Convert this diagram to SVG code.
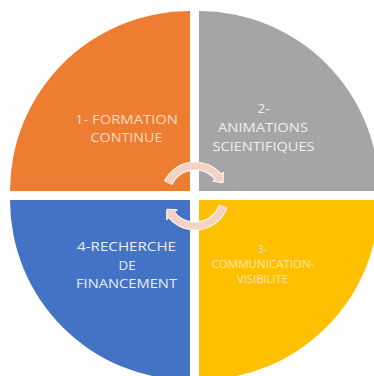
<svg xmlns="http://www.w3.org/2000/svg" width="374" height="376" viewBox="0 0 374 376">
<style>
text{font-family:"Open Sans","Liberation Sans",sans-serif;text-anchor:middle;}
.big{font-size:13.5px;}
.small{font-size:10.5px;}
.arc-o{fill:none;stroke:#ffffff;stroke-width:9;}
.arc-i{fill:none;stroke:#F6D2C4;stroke-width:7;}
.head{fill:#F6D2C4;stroke:#ffffff;stroke-width:1;}
</style>
<rect width="374" height="376" fill="#ffffff"/>
<g id="node1">
<path d="M190,191 L10,191 A180,180 0 0 1 190,11 Z" fill="#ED7D31"/>
<text class="big" fill="#FADCC8" x="126.5" y="123.5" textLength="103" lengthAdjust="spacingAndGlyphs">1- FORMATION</text>
<text class="big" fill="#FADCC8" x="126.5" y="141.5" textLength="72" lengthAdjust="spacingAndGlyphs">CONTINUE</text>
</g>
<g id="node2">
<path d="M199,191 L199,11 A180,180 0 0 1 379,191 Z" fill="#A5A5A5"/>
<text class="big" fill="#EEEEEE" x="263.5" y="113">2-</text>
<text class="big" fill="#EEEEEE" x="263" y="132" textLength="90" lengthAdjust="spacingAndGlyphs">ANIMATIONS</text>
<text class="big" fill="#EEEEEE" x="263.5" y="150.5" textLength="102" lengthAdjust="spacingAndGlyphs">SCIENTIFIQUES</text>
</g>
<g id="node3">
<path d="M199,200 L379,200 A180,180 0 0 1 199,380 Z" fill="#FFC000"/>
<text class="small" fill="#FDE8B0" x="262.5" y="253">3-</text>
<text class="small" fill="#FDE8B0" x="263" y="267.5" textLength="103" lengthAdjust="spacingAndGlyphs">COMMUNICATION-</text>
<text class="small" fill="#FDE8B0" x="262.5" y="282.5" textLength="51" lengthAdjust="spacingAndGlyphs">VISIBILITE</text>
</g>
<g id="node4">
<path d="M190,200 L190,380 A180,180 0 0 1 10,200 Z" fill="#4472C4"/>
<text class="big" fill="#E8EEF8" x="126.5" y="251" textLength="99" lengthAdjust="spacingAndGlyphs">4-RECHERCHE</text>
<text class="big" fill="#E8EEF8" x="127" y="269.5" textLength="17" lengthAdjust="spacingAndGlyphs">DE</text>
<text class="big" fill="#E8EEF8" x="126.5" y="288" textLength="101" lengthAdjust="spacingAndGlyphs">FINANCEMENT</text>
</g>
<g id="connectors">
<path class="arc-o" d="M168,183 A30,30 0 0 1 218,176.7"/>
<polygon class="head" points="223.4,172.2 223.1,182.8 212.6,181.2"/>
<path class="arc-i" d="M168,183 A30,30 0 0 1 219,177.5"/>
<path class="arc-o" d="M223.3,206 A30,30 0 0 1 172,215.3"/>
<polygon class="head" points="177.4,209.8 166.9,209.2 166.6,219.8"/>
<path class="arc-i" d="M223.3,206 A30,30 0 0 1 171.2,214.5"/>
</g>
</svg>
